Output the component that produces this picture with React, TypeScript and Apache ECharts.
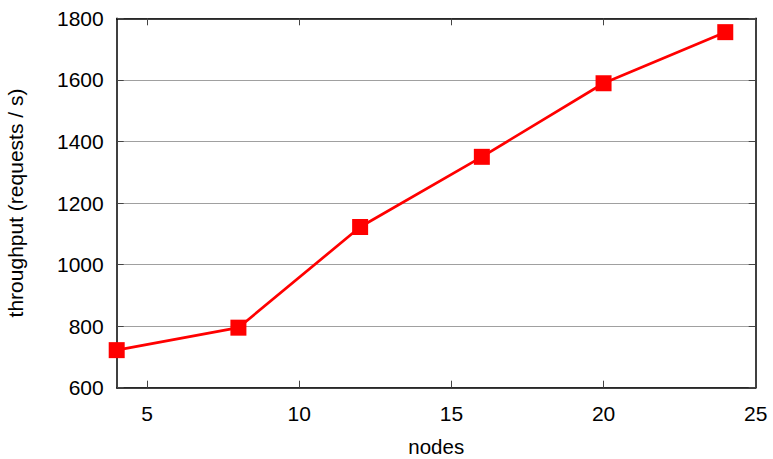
import React, { useEffect, useRef } from "react";
import * as echarts from "echarts";

const nodes = [4, 8, 12, 16, 20, 24];
const throughput = [722, 795, 1122, 1350, 1589, 1755];
const xTicks = [5, 10, 15, 20, 25];

const FONT = "Liberation Sans";
const FS = 21;

export default function App() {
  const ref = useRef<HTMLDivElement>(null);
  useEffect(() => {
    const chart = echarts.init(ref.current!, null, { renderer: "svg" });
    const frame = { show: true, onZero: false, lineStyle: { color: "#000", width: 1.5 } };
    const tickStyle = { show: true, inside: true, length: 7, lineStyle: { color: "#444", width: 1 } };
    const fmt = (v: number) => String(v);
    chart.setOption({
      animation: false,
      backgroundColor: "#fff",
      textStyle: { fontFamily: FONT },
      grid: {
        left: 116.7,
        top: 18.3,
        right: 17.3,
        bottom: 71.3,
        containLabel: false,
        outerBoundsMode: "none",
      },
      xAxis: [
        {
          type: "value",
          min: 4,
          max: 25,
          name: "nodes",
          nameLocation: "middle",
          nameGap: 59,
          nameTextStyle: {
            fontSize: 20.5,
            color: "#000",
            fontFamily: FONT,
            verticalAlign: "middle",
            lineHeight: 14,
          },
          axisLine: frame,
          axisTick: { ...tickStyle, customValues: xTicks },
          axisLabel: { customValues: xTicks, fontSize: FS, color: "#000", margin: 15, fontFamily: FONT, formatter: fmt },
          splitLine: { show: false },
        },
        {
          type: "value",
          position: "top",
          min: 4,
          max: 25,
          axisLine: frame,
          axisTick: { ...tickStyle, customValues: xTicks },
          axisLabel: { show: false, customValues: xTicks },
          splitLine: { show: false },
        },
      ],
      yAxis: [
        {
          type: "value",
          min: 600,
          max: 1800,
          interval: 200,
          name: "throughput (requests / s)",
          nameLocation: "middle",
          nameGap: 91,
          nameTextStyle: { fontSize: FS, color: "#000", fontFamily: FONT },
          axisLine: frame,
          axisTick: tickStyle,
          axisLabel: { fontSize: FS, color: "#000", margin: 13, fontFamily: FONT, formatter: fmt },
          splitLine: { show: true, lineStyle: { color: "#a0a0a0", width: 1 } },
        },
        {
          type: "value",
          position: "right",
          min: 600,
          max: 1800,
          interval: 200,
          axisLine: frame,
          axisTick: tickStyle,
          axisLabel: { show: false },
          splitLine: { show: false },
        },
      ],
      series: [
        {
          type: "line",
          data: nodes.map((n, i) => [n, throughput[i]]),
          symbol: "rect",
          symbolSize: 16,
          lineStyle: { color: "#ff0000", width: 2.7 },
          itemStyle: { color: "#ff0000" },
          z: 5,
        },
      ],
    });
    return () => chart.dispose();
  }, []);
  return (
    <div
      ref={ref}
      style={{ position: "fixed", left: 0, top: 0, width: 773, height: 459 }}
    />
  );
}
